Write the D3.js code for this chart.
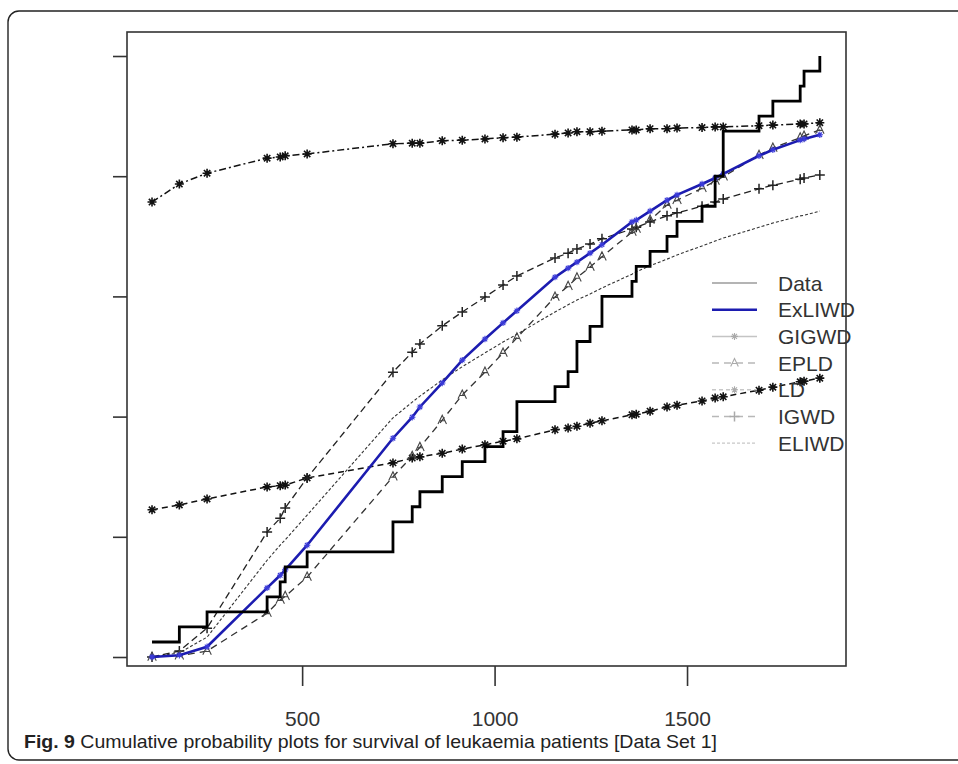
<!DOCTYPE html>
<html><head><meta charset="utf-8">
<script src="https://cdn.jsdelivr.net/npm/d3@7"></script>
<style>body{margin:0;background:#fff}</style>
</head><body><svg id="c" width="958" height="764"></svg>
<script>
// ---- data ----
const times = [110,181,253,409,443,456,513,736,786,806,864,916,975,1022,1058,1157,1191,1214,1248,1279,1357,1368,1404,1448,1474,1539,1573,1594,1687,1723,1794,1804,1845];
const ecdfValues = [0.025,0.05,0.075,0.1,0.125,0.15,0.175,0.225,0.25,0.275,0.3,0.325,0.35,0.375,0.425,0.45,0.475,0.525,0.55,0.6,0.625,0.65,0.675,0.7,0.725,0.75,0.8,0.875,0.9,0.925,0.95,0.975,1.0];
const exliwdValues = [0.0,0.003,0.017,0.115,0.136,0.145,0.186,0.364,0.399,0.416,0.456,0.494,0.529,0.556,0.576,0.632,0.647,0.657,0.672,0.686,0.724,0.727,0.742,0.760,0.769,0.787,0.797,0.804,0.834,0.844,0.860,0.862,0.869];
const epldValues = [0.0,0.002,0.010,0.073,0.095,0.101,0.133,0.300,0.334,0.349,0.394,0.436,0.474,0.506,0.531,0.599,0.617,0.631,0.649,0.666,0.707,0.712,0.727,0.752,0.760,0.780,0.792,0.799,0.835,0.847,0.864,0.867,0.877];
const igwdValues = [0.0,0.010,0.048,0.208,0.231,0.248,0.298,0.474,0.507,0.521,0.551,0.574,0.599,0.619,0.634,0.664,0.672,0.679,0.687,0.696,0.712,0.715,0.724,0.734,0.739,0.750,0.757,0.762,0.779,0.785,0.795,0.797,0.802];
const eliwdValues = [0.0,0.007,0.033,0.161,0.186,0.195,0.236,0.398,0.424,0.434,0.461,0.483,0.506,0.524,0.537,0.574,0.586,0.594,0.604,0.614,0.637,0.641,0.651,0.662,0.669,0.684,0.692,0.697,0.715,0.722,0.734,0.735,0.742];
const ldValues = [0.757,0.787,0.805,0.830,0.832,0.834,0.837,0.854,0.855,0.855,0.859,0.860,0.862,0.864,0.865,0.870,0.872,0.874,0.874,0.875,0.877,0.877,0.879,0.879,0.880,0.881,0.882,0.882,0.884,0.885,0.887,0.887,0.889];
const gigwdValues = [0.245,0.253,0.263,0.283,0.285,0.286,0.298,0.323,0.331,0.333,0.339,0.346,0.353,0.359,0.363,0.378,0.381,0.384,0.389,0.393,0.403,0.404,0.409,0.416,0.419,0.426,0.431,0.433,0.444,0.449,0.458,0.459,0.464];
const xTicks = [500,1000,1500];
const yTicks = [0,0.2,0.4,0.6,0.8,1.0];
const legendLabels = ["Data","ExLIWD","GIGWD","EPLD","LD","IGWD","ELIWD"];
const captionBold = "Fig. 9";
const captionText = " Cumulative probability plots for survival of leukaemia patients [Data Set 1]";

// ---- drawing ----
const svg = d3.select("#c");
svg.append("rect").attr("width",958).attr("height",764).attr("fill","#fff");
// outer frame
svg.append("rect").attr("x",8).attr("y",11).attr("width",1000).attr("height",749)
  .attr("rx",11).attr("fill","none").attr("stroke","#222").attr("stroke-width",1.4);

const x = d3.scaleLinear().domain([45,1913]).range([127,846]);
const y = d3.scaleLinear().domain([0,1]).range([657,56]);

const plot = svg.append("g");

function curve(vals){ return times.map((t,i)=>[t,vals[i]]); }
const line = d3.line().x(d=>x(d[0])).y(d=>y(d[1]));

function asterisk(g,cx,cy,r,color,w){
  const p = d3.path();
  for(let k=0;k<4;k++){const a=k*Math.PI/4; p.moveTo(cx-r*Math.cos(a),cy-r*Math.sin(a)); p.lineTo(cx+r*Math.cos(a),cy+r*Math.sin(a));}
  g.append("path").attr("d",p.toString()).attr("stroke",color).attr("stroke-width",w).attr("fill","none");
}
function plus(g,cx,cy,r,color,w){
  const p = d3.path(); p.moveTo(cx-r,cy); p.lineTo(cx+r,cy); p.moveTo(cx,cy-r); p.lineTo(cx,cy+r);
  g.append("path").attr("d",p.toString()).attr("stroke",color).attr("stroke-width",w).attr("fill","none");
}
function tri(g,cx,cy,r,color,w){
  const p = d3.path(); p.moveTo(cx-r*0.85,cy+r*0.75); p.lineTo(cx,cy-r); p.lineTo(cx+r*0.85,cy+r*0.75);
  p.moveTo(cx-r*0.45,cy+r*0.1); p.lineTo(cx+r*0.45,cy+r*0.1);
  g.append("path").attr("d",p.toString()).attr("stroke",color).attr("stroke-width",w).attr("fill","none");
}

const series = [
  {vals:ldValues, dash:"7,3,2,3", color:"#111", w:1.5, mk:"ast", mc:"#111"},
  {vals:gigwdValues, dash:"6,4", color:"#111", w:1.5, mk:"ast", mc:"#111"},
  {vals:eliwdValues, dash:"3,2", color:"#333", w:1.1, mk:null},
  {vals:igwdValues, dash:"7,4", color:"#222", w:1.3, mk:"plus", mc:"#222"},
  {vals:epldValues, dash:"7,5", color:"#333", w:1.3, mk:"tri", mc:"#444"},
];
series.forEach(s=>{
  plot.append("path").attr("d",line(curve(s.vals))).attr("fill","none")
    .attr("stroke",s.color).attr("stroke-width",s.w).attr("stroke-dasharray",s.dash);
});
series.forEach(s=>{
  if(!s.mk) return;
  times.forEach((t,i)=>{
    const cx=x(t), cy=y(s.vals[i]);
    if(s.mk==="ast") asterisk(plot,cx,cy,4.5,s.mc,1.6);
    if(s.mk==="plus") plus(plot,cx,cy,5,s.mc,1.5);
    if(s.mk==="tri") tri(plot,cx,cy,5,s.mc,1.1);
  });
});
// ExLIWD blue
plot.append("path").attr("d",line(curve(exliwdValues))).attr("fill","none")
  .attr("stroke","#1c1cb0").attr("stroke-width",2.6);
times.forEach((t,i)=>asterisk(plot,x(t),y(exliwdValues[i]),3.2,"#3a3ad8",1.1));

// empirical CDF
const step = d3.line().x(d=>x(d[0])).y(d=>y(d[1])).curve(d3.curveStepAfter);
plot.append("path").attr("d",step(curve(ecdfValues))).attr("fill","none")
  .attr("stroke","#000").attr("stroke-width",2.8);

// box
svg.append("rect").attr("x",127).attr("y",32).attr("width",719).attr("height",634)
  .attr("fill","none").attr("stroke","#333").attr("stroke-width",1.6);

// axes
const ya = svg.append("g").attr("transform","translate(127,0)")
  .call(d3.axisLeft(y).tickValues(yTicks).tickSize(14).tickFormat(""));
ya.select(".domain").remove();
ya.selectAll("line").attr("stroke","#333").attr("stroke-width",1.6);

const xa = svg.append("g").attr("transform","translate(0,666)")
  .call(d3.axisBottom(x).tickValues(xTicks).tickSize(20).tickPadding(25).tickFormat(d3.format("d")));
xa.select(".domain").remove();
xa.selectAll("line").attr("stroke","#333").attr("stroke-width",1.6);
xa.selectAll("text").attr("font-family","'Liberation Sans',Arial,sans-serif").attr("font-size",21).attr("fill","#333");

// legend
const lg = svg.append("g");
legendLabels.forEach((lab,i)=>{
  const cy = 283 + i*26.7;
  const styles = [
    {c:"#b4b4b4", w:2.2, d:null},
    {c:"#1c1cb0", w:2.6, d:null},
    {c:"#c4c4c4", w:1.5, d:null},
    {c:"#b8b8b8", w:1.5, d:"7,5"},
    {c:"#c8c8c8", w:1.5, d:"4,3"},
    {c:"#b8b8b8", w:1.5, d:"7,5"},
    {c:"#c8c8c8", w:1.3, d:"3,2"}
  ][i];
  lg.append("line").attr("x1",712).attr("x2",757).attr("y1",cy).attr("y2",cy)
    .attr("stroke",styles.c).attr("stroke-width",styles.w).attr("stroke-dasharray",styles.d);
  if(i===2||i===4) asterisk(lg,734.5,cy,3.5,"#aaa",1.1);
  if(i===3) tri(lg,734.5,cy,4.5,"#aaa",1.1);
  if(i===5) plus(lg,734.5,cy,5,"#aaa",1.5);
  lg.append("text").attr("x",778).attr("y",cy).attr("dy","0.36em")
    .attr("font-family","'Liberation Sans',Arial,sans-serif").attr("font-size",21).attr("fill","#333").text(lab);
});

// caption
const cap = svg.append("text").attr("x",24).attr("y",748)
  .attr("font-family","'Liberation Sans Narrow','Liberation Sans',sans-serif").attr("font-size",19).attr("fill","#222")
  .attr("textLength",693).attr("lengthAdjust","spacingAndGlyphs");
cap.append("tspan").attr("font-weight","bold").text(captionBold);
cap.append("tspan").text(captionText);
</script></body></html>
